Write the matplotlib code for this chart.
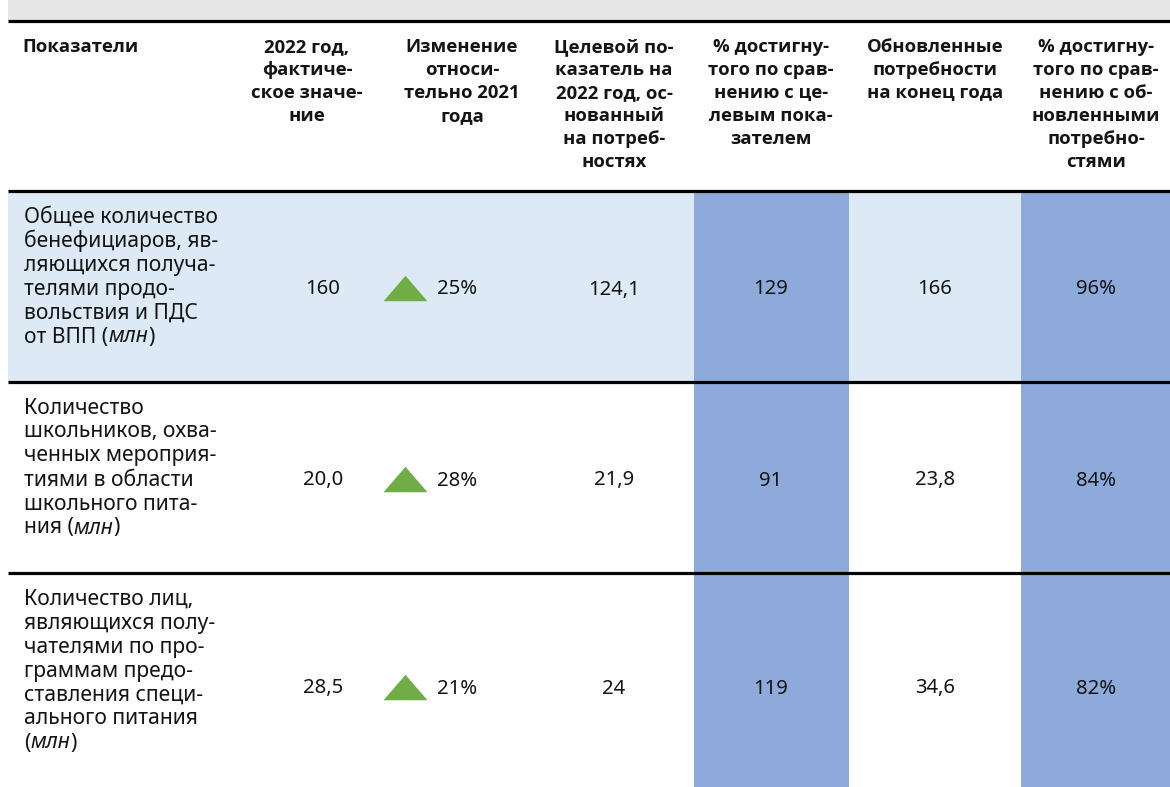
import matplotlib
matplotlib.use("Agg")
import matplotlib.pyplot as plt
from matplotlib.patches import Rectangle

# ---------------- data ----------------
header_labels = [
    ["Показатели"],
    ["2022 год,", "фактиче-", "ское значе-", "ние"],
    ["Изменение", "относи-", "тельно 2021", "года"],
    ["Целевой по-", "казатель на", "2022 год, ос-", "нованный", "на потреб-", "ностях"],
    ["% достигну-", "того по срав-", "нению с це-", "левым пока-", "зателем"],
    ["Обновленные", "потребности", "на конец года"],
    ["% достигну-", "того по срав-", "нению с об-", "новленными", "потребно-", "стями"],
]

# indicator names, wrapped as in the source; "*...*" marks italic parts
indicator_lines = [
    ["Общее количество", "бенефициаров, яв-", "ляющихся получа-", "телями продо-",
     "вольствия и ПДС", "от ВПП (*млн*)"],
    ["Количество", "школьников, охва-", "ченных мероприя-", "тиями в области",
     "школьного пита-", "ния (*млн*)"],
    ["Количество лиц,", "являющихся полу-", "чателями по про-", "граммам предо-",
     "ставления специ-", "ального питания", "(*млн*)"],
]
actual_2022 = ["160", "20,0", "28,5"]
change_vs_2021 = [25, 28, 21]
target_2022 = ["124,1", "21,9", "24"]
pct_of_target = [129, 91, 119]
updated_needs = ["166", "23,8", "34,6"]
pct_of_updated = [96, 84, 82]

# ---------------- layout ----------------
W, H = 1170, 787
fig = plt.figure(figsize=(W / 100, H / 100), dpi=100)
ax = fig.add_axes([0, 0, 1, 1])
ax.set_xlim(0, W)
ax.set_ylim(H, 0)
ax.axis("off")

FONT_REG = ["Noto Sans", "Open Sans", "DejaVu Sans"]
FONT_BOLD = ["Open Sans", "DejaVu Sans"]
TXT = "#141414"
LIGHT = "#ddeaf6"
BLUE = "#8eaadb"
GREEN = "#70ad47"

left = 8
col_centers = [None, 307, 462, 614, 771, 935, 1096]
blue_cols = [(694, 849), (1021, 1170)]
header_top, header_bottom = 21, 191
row_tops = [191, 382, 573]
row_bottoms = [382, 573, 798]
line_h = 24
head_line_h = 23
HEAD = 13.3
BODY = 15.2
VAL = 14.6

renderer = fig.canvas.get_renderer()

# title band (title cropped in source)
ax.add_patch(Rectangle((left, -5), W - left, 5 + header_top, color="#e6e6e6", lw=0, zorder=0))

# row backgrounds
ax.add_patch(Rectangle((left, row_tops[0]), W - left, row_bottoms[0] - row_tops[0],
                       color=LIGHT, lw=0, zorder=0))
for x0, x1 in blue_cols:
    ax.add_patch(Rectangle((x0, header_bottom), x1 - x0, H + 20 - header_bottom,
                           color=BLUE, lw=0, zorder=1))

# horizontal rules
for y in [header_top, header_bottom] + row_bottoms:
    ax.plot([left, W], [y, y], color="black", lw=2.3, zorder=3, solid_capstyle="butt")

# header text
for ci, lines in enumerate(header_labels):
    for li, s in enumerate(lines):
        y = 47 + li * head_line_h
        if ci == 0:
            ax.text(22, y, s, ha="left", va="center", fontsize=HEAD, fontweight="bold",
                    family=FONT_BOLD, color=TXT, zorder=4)
        else:
            ax.text(col_centers[ci], y, s, ha="center", va="center", fontsize=HEAD,
                    fontweight="bold", family=FONT_BOLD, color=TXT, zorder=4)


def draw_mixed(x, y, s, size):
    parts = s.split("*")
    for k, p in enumerate(parts):
        if not p:
            continue
        t = ax.text(x, y, p, ha="left", va="center", fontsize=size, family=FONT_REG,
                    style="italic" if k % 2 else "normal", color=TXT, zorder=4)
        bb = t.get_window_extent(renderer)
        x = bb.x1


for ri in range(3):
    top = row_tops[ri]
    for li, s in enumerate(indicator_lines[ri]):
        draw_mixed(24, top + 26 + li * line_h, s, BODY)
    yc = (row_tops[ri] + row_bottoms[ri]) / 2 + 3
    vals = [actual_2022[ri], None, target_2022[ri], str(pct_of_target[ri]),
            updated_needs[ri], f"{pct_of_updated[ri]}%"]
    for ci, v in enumerate(vals, start=1):
        if v is None:
            continue
        ax.text(col_centers[ci] + (16 if ci == 1 else 0), yc, v, ha="center", va="center",
                fontsize=VAL, family=FONT_REG, color=TXT, zorder=4)
    # change column: green up-triangle + percentage
    tri = [(-1, -0.58), (1, -0.58), (0, 0.58)]
    ax.scatter([col_centers[2] - 57], [yc - 2], marker=tri, s=1000, color=GREEN,
               lw=0, zorder=4)
    ax.text(col_centers[2] - 25, yc, f"{change_vs_2021[ri]}%", ha="left", va="center",
            fontsize=VAL, family=FONT_REG, color=TXT, zorder=4)

fig.savefig("out.png", dpi=100)
